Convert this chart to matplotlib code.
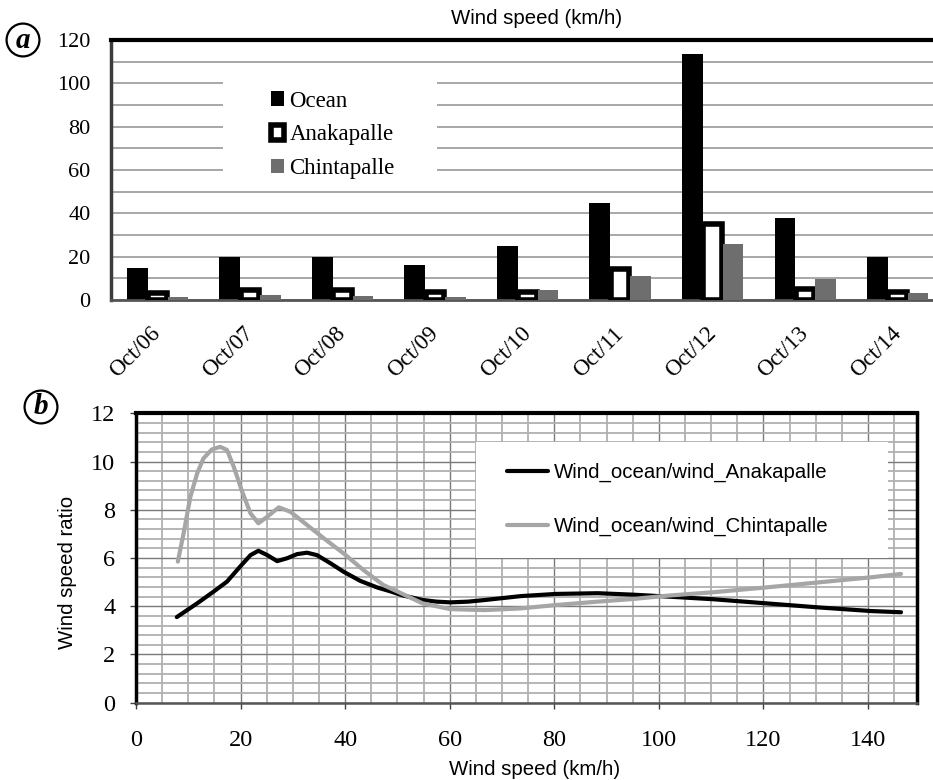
import matplotlib
matplotlib.use('Agg')
import matplotlib.pyplot as plt
from matplotlib.patches import Rectangle
from matplotlib.ticker import MultipleLocator
import numpy as np

# ---------------- data ----------------
dates = ['Oct/06', 'Oct/07', 'Oct/08', 'Oct/09', 'Oct/10', 'Oct/11', 'Oct/12', 'Oct/13', 'Oct/14']
ocean = [14.9, 19.8, 19.7, 16.0, 25.1, 44.8, 113.4, 37.7, 19.7]
anakapalle = [3.2, 4.4, 4.4, 3.8, 3.9, 14.4, 35.3, 5.2, 3.9]
chintapalle = [1.4, 2.2, 2.0, 1.6, 4.6, 11.1, 25.8, 9.5, 3.4]

wind_anak = [7.8, 11.7, 14.8, 17.4, 19.9, 21.9, 23.4, 25.1, 27.0, 28.9, 30.8, 32.7, 34.6,
             37.2, 39.7, 42.9, 46.1, 48.6, 51.0, 54.8, 57.5, 60.1, 63.5, 66.8, 73.6, 80.3,
             88.3, 95.0, 101.7, 110.4, 120.5, 130.6, 140.6, 146.3]
ratio_anak = [3.55, 4.12, 4.60, 5.02, 5.64, 6.12, 6.30, 6.12, 5.87, 5.99, 6.16, 6.22, 6.12,
              5.78, 5.43, 5.05, 4.78, 4.62, 4.45, 4.26, 4.19, 4.16, 4.19, 4.26, 4.42, 4.51,
              4.54, 4.48, 4.40, 4.29, 4.12, 3.95, 3.80, 3.75]

wind_chint = [8.0, 9.1, 10.4, 11.7, 12.9, 14.5, 16.1, 17.4, 18.7, 20.3, 21.9, 23.4, 25.1,
              27.3, 29.5, 32.7, 35.9, 39.7, 43.5, 47.3, 50.1, 54.8, 60.1, 66.8, 73.6, 80.3,
              88.3, 95.0, 101.7, 110.4, 120.5, 130.6, 140.6, 146.3]
ratio_chint = [5.85, 7.02, 8.54, 9.51, 10.13, 10.50, 10.61, 10.48, 9.78, 8.75, 7.85, 7.44, 7.71,
               8.10, 7.92, 7.37, 6.82, 6.19, 5.50, 4.88, 4.60, 4.12, 3.88, 3.84, 3.91, 4.05,
               4.19, 4.30, 4.44, 4.58, 4.78, 4.99, 5.20, 5.34]

# ---------------- style ----------------
SERIF = ['Liberation Serif', 'DejaVu Serif']
SANS = ['Liberation Sans', 'DejaVu Sans']

W, H = 933, 780
fig = plt.figure(figsize=(W / 100, H / 100), dpi=100)


def axrect(l, t, r, b):
    return [l / W, 1 - b / H, (r - l) / W, (b - t) / H]


# ---------------- panel (a) ----------------
ax1 = fig.add_axes(axrect(111.4, 40, 944, 300))
x = np.arange(len(dates))
ax1.bar(x - 0.22, ocean, width=0.224, color='black', zorder=2, label='Ocean')
ax1.bar(x, anakapalle, width=0.2, color='white', edgecolor='black', linewidth=4,
        zorder=3, label='Anakapalle')
ax1.bar(x + 0.22, chintapalle, width=0.224, color='#6e6e6e', zorder=4, label='Chintapalle')
ax1.set_xlim(-0.5, len(dates) - 0.5)
ax1.set_ylim(0, 120)
ax1.yaxis.set_major_locator(MultipleLocator(20))
ax1.yaxis.set_minor_locator(MultipleLocator(10))
ax1.set_axisbelow(True)
ax1.grid(axis='y', which='both', color='#a0a0a0', lw=1.3)
ax1.set_xticks(x)
ax1.set_xticklabels(dates, rotation=45, ha='right', va='center', rotation_mode='anchor',
                    family=SERIF, fontsize=16.5)
for lab in ax1.get_yticklabels():
    lab.set_family(SERIF)
ax1.tick_params(axis='x', length=0, pad=22)
ax1.tick_params(axis='y', which='both', length=0, pad=15, labelsize=16)
ax1.spines['top'].set_color('black')
ax1.spines['top'].set_linewidth(3)
ax1.spines['left'].set_color('#3c3c3c')
ax1.spines['left'].set_linewidth(2.5)
ax1.spines['bottom'].set_color('#555555')
ax1.spines['bottom'].set_linewidth(2)
ax1.spines['right'].set_visible(False)

ax1.add_patch(Rectangle((0.134, 0.4615), 0.257, 0.4035, transform=ax1.transAxes,
                        fc='white', ec='none', zorder=1))
ax1.legend(loc='center left', bbox_to_anchor=((271 - 111.4) / 832.6, 0.635), frameon=False,
           prop={'family': SERIF, 'size': 16.5}, handlelength=0.55, handleheight=0.6,
           handletextpad=0.25, labelspacing=0.55, borderpad=0, borderaxespad=0)

fig.text(537 / W, 1 - 18 / H, 'Wind speed (km/h)', ha='center', va='center',
         family=SANS, fontsize=14.7)

# ---------------- panel (b) ----------------
ax2 = fig.add_axes(axrect(136, 413.3, 916.7, 702.7))
ax2.plot(wind_anak, ratio_anak, color='black', lw=3, zorder=3,
         solid_joinstyle='round', solid_capstyle='round', label='Wind_ocean/wind_Anakapalle')
ax2.plot(wind_chint, ratio_chint, color='#a6a6a6', lw=3, zorder=3,
         solid_joinstyle='round', solid_capstyle='round', label='Wind_ocean/wind_Chintapalle')
ax2.set_xlim(0, 149.3)
ax2.set_ylim(0, 12)
ax2.xaxis.set_major_locator(MultipleLocator(20))
ax2.xaxis.set_minor_locator(MultipleLocator(5))
ax2.yaxis.set_major_locator(MultipleLocator(2))
ax2.yaxis.set_minor_locator(MultipleLocator(0.4))
ax2.set_axisbelow(True)
ax2.grid(which='minor', color='#b0b0b0', lw=1.3)
ax2.grid(which='major', color='#7a7a7a', lw=1.0)
ax2.tick_params(which='major', direction='out', length=4, width=1, color='#404040',
                labelsize=17.5)
ax2.tick_params(axis='x', which='major', pad=16)
ax2.tick_params(axis='y', which='major', pad=11)
ax2.tick_params(which='minor', length=0)
for lab in ax2.get_xticklabels() + ax2.get_yticklabels():
    lab.set_family(SERIF)
for s in ['left', 'right']:
    ax2.spines[s].set_color('black')
    ax2.spines[s].set_linewidth(2.5)
ax2.spines['top'].set_color('black')
ax2.spines['top'].set_linewidth(3)
ax2.spines['bottom'].set_color('#555555')
ax2.spines['bottom'].set_linewidth(1.8)

ax2.add_patch(Rectangle((0.4355, 0.5), 0.5275, 0.401, transform=ax2.transAxes,
                        fc='white', ec='none', zorder=1.5))
ax2.legend(loc='center left', bbox_to_anchor=(0.475, 0.7015), frameon=False,
           prop={'family': SANS, 'size': 14.7}, handlelength=2.0, handletextpad=0.33,
           labelspacing=1.7, borderpad=0, borderaxespad=0)

ax2.set_ylabel('Wind speed ratio', family=SANS, fontsize=14.7)
ax2.yaxis.set_label_coords(-0.0756, 0.45)
ax2.set_xlabel('Wind speed (km/h)', family=SANS, fontsize=14.7)
ax2.xaxis.set_label_coords(0.511, -0.197)

# ---------------- panel labels ----------------
circ = dict(boxstyle='circle,pad=0.1', fc='white', ec='black', lw=1.6)
fig.text(23 / W, 1 - 40 / H, 'a', family=SERIF, fontsize=21, fontstyle='italic',
         fontweight='bold', ha='center', va='center', bbox=circ)
fig.text(41 / W, 1 - 407 / H, 'b', family=SERIF, fontsize=21, fontstyle='italic',
         fontweight='bold', ha='center', va='center', bbox=circ)

fig.savefig('out.png', dpi=100)
